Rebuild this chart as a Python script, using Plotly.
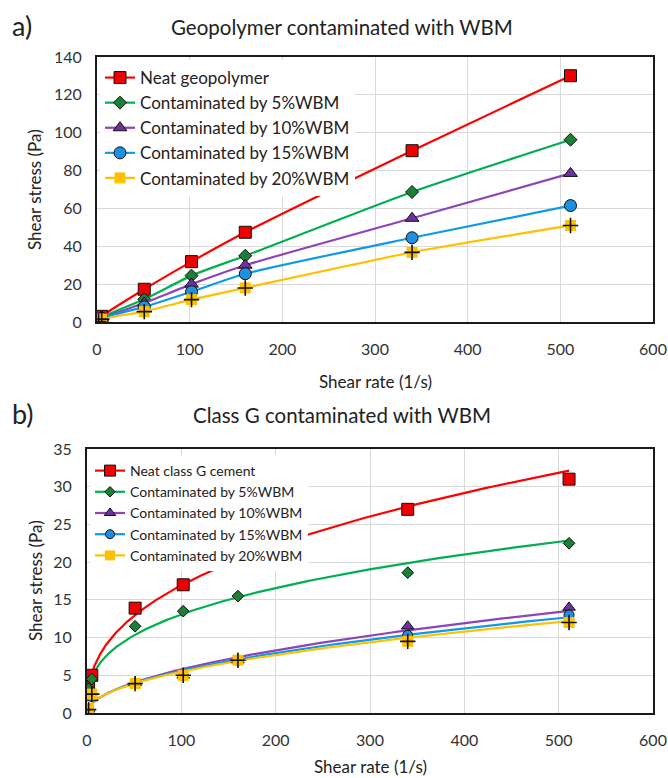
import numpy as np
import plotly.graph_objects as go

W, H = 668, 778
FONT = "Lato"

# ---------------- data ----------------
shear_rate = [1.7, 5.1, 51, 102, 160, 340, 511]
series_names_a = ["Neat geopolymer", "Contaminated by 5%WBM", "Contaminated by 10%WBM",
                  "Contaminated by 15%WBM", "Contaminated by 20%WBM"]
series_names_b = ["Neat class G cement", "Contaminated by 5%WBM", "Contaminated by 10%WBM",
                  "Contaminated by 15%WBM", "Contaminated by 20%WBM"]

geo_neat = [1.0, 3.0, 17.3, 31.9, 47.4, 90.5, 130.1]
geo_5 = [0.8, 2.5, 12.0, 24.5, 35.0, 68.7, 96.3]
geo_10 = [0.6, 2.0, 10.0, 20.0, 30.0, 54.8, 78.5]
geo_15 = [0.5, 2.0, 8.0, 16.0, 25.5, 44.5, 61.5]
geo_20 = [0.3, 1.5, 5.5, 11.8, 18.0, 36.8, 51.0]

cls_neat = [3.45, 5.0, 13.9, 17.0, 20.9, 27.0, 31.0]
cls_5 = [3.2, 4.5, 11.5, 13.5, 15.5, 18.6, 22.5]
cls_10 = [0.5, 2.0, 4.0, 5.0, 7.0, 11.5, 14.0]
cls_15 = [0.5, 2.2, 3.9, 5.0, 7.0, 10.3, 13.0]
cls_20 = [0.45, 2.5, 3.9, 5.0, 7.0, 9.5, 12.0]

x_ticks = [0, 100, 200, 300, 400, 500, 600]

# ---------------- styles ----------------
line_cols = ["#ff0000", "#00b050", "#8e44b8", "#0f9ae6", "#ffc000"]
fill_cols = ["#ee0000", "#1b7f36", "#7030a0", "#1f8fe0", "#ffc000"]
symbols = ["square", "diamond", "triangle-up", "circle", "square"]
sizes_a = [12, 10, 12, 12, 11]
sizes_b = [12, 9, 11, 10, 11]


def px(x):
    return x / W


def py(y):
    return 1 - y / H


fig = go.Figure()

# ---------------- panel a ----------------
geo = [geo_neat, geo_5, geo_10, geo_15, geo_20]
for i, ys in enumerate(geo):
    mk = dict(symbol=symbols[i], size=sizes_a[i], color=fill_cols[i],
              line=dict(color="#111111", width=1 if i < 4 else 0))
    fig.add_trace(go.Scatter(
        x=shear_rate, y=ys, name=series_names_a[i], mode="lines+markers",
        line=dict(color=line_cols[i], width=2.2, shape="spline", smoothing=0.6),
        marker=mk, xaxis="x", yaxis="y", legend="legend"))
fig.add_trace(go.Scatter(
    x=shear_rate, y=geo_20, mode="markers", showlegend=False,
    marker=dict(symbol="cross-thin", size=11, line=dict(color="#111111", width=1.6)),
    xaxis="x", yaxis="y"))

# ---------------- panel b ----------------
cls = [cls_neat, cls_5, cls_10, cls_15, cls_20]
xr = np.array(shear_rate, dtype=float)
xc = np.geomspace(xr.min(), xr.max(), 300)
for i, ys in enumerate(cls):
    b, lna = np.polyfit(np.log(xr), np.log(np.array(ys)), 1)
    fig.add_trace(go.Scatter(
        x=xc, y=np.exp(lna) * xc ** b, mode="lines", showlegend=False,
        line=dict(color=line_cols[i], width=2.2), xaxis="x2", yaxis="y2",
        hoverinfo="skip"))
for i, ys in enumerate(cls):
    mk = dict(symbol=symbols[i], size=sizes_b[i], color=fill_cols[i],
              line=dict(color="#111111", width=1 if i < 4 else 0))
    fig.add_trace(go.Scatter(
        x=shear_rate, y=ys, mode="markers", showlegend=False,
        marker=mk, xaxis="x2", yaxis="y2"))
    # legend entry (line + marker)
    fig.add_trace(go.Scatter(
        x=[None], y=[None], mode="lines+markers", name=series_names_b[i],
        line=dict(color=line_cols[i], width=2.2),
        marker=dict(symbol=symbols[i], size=sizes_b[i] - 1, color=fill_cols[i],
                    line=dict(color="#111111", width=1 if i < 4 else 0)),
        xaxis="x2", yaxis="y2", legend="legend2"))
fig.add_trace(go.Scatter(
    x=shear_rate, y=cls_20, mode="markers", showlegend=False,
    marker=dict(symbol="cross-thin", size=11, line=dict(color="#111111", width=1.6)),
    xaxis="x2", yaxis="y2"))

# ---------------- layout ----------------
axis_common = dict(showgrid=True, gridcolor="#d9d9d9", gridwidth=1, zeroline=False,
                   showline=True, linecolor="#1a1a1a", linewidth=2, mirror=True,
                   ticks="", automargin=False,
                   tickfont=dict(family=FONT, size=16, color="#333333"))

fig.update_layout(
    width=W, height=H, margin=dict(l=0, r=0, t=0, b=0, autoexpand=False),
    paper_bgcolor="white", plot_bgcolor="white",
    font=dict(family=FONT, color="#222222"),
    xaxis=dict(domain=[px(97), px(653)], anchor="y", range=[0, 600], tickvals=x_ticks,
               ticklabelstandoff=12, **axis_common),
    yaxis=dict(domain=[py(322), py(57)], anchor="x", range=[0, 140], dtick=20,
               ticklabelstandoff=10, **axis_common),
    xaxis2=dict(domain=[px(87), px(653)], anchor="y2", range=[0, 600], tickvals=x_ticks,
                ticklabelstandoff=12, **axis_common),
    yaxis2=dict(domain=[py(713), py(449)], anchor="x2", range=[0, 35], dtick=5,
                ticklabelstandoff=10, **axis_common),
    legend=dict(x=px(100), y=py(60), xanchor="left", yanchor="top",
                bgcolor="white", borderwidth=0, tracegroupgap=0,
                font=dict(family=FONT, size=17, color="#222222"),
                itemsizing="trace"),
    legend2=dict(x=px(90), y=py(455), xanchor="left", yanchor="top",
                 bgcolor="white", borderwidth=0, tracegroupgap=0,
                 font=dict(family=FONT, size=14, color="#222222"),
                 itemsizing="trace"),
    showlegend=True,
)

ann = []


def add_text(text, x, y, size, angle=0, xanchor="center"):
    ann.append(dict(text=text, x=px(x), y=py(y), xref="paper", yref="paper",
                    showarrow=False, xanchor=xanchor, yanchor="middle",
                    textangle=angle, font=dict(family=FONT, size=size, color="#222222")))


add_text("a)", 10, 26, 27, xanchor="left")
add_text("Geopolymer contaminated with WBM", 342, 27, 20.5)
add_text("Shear rate (1/s)", 375, 381, 17)
add_text("Shear stress (Pa)", 35, 190, 17, angle=-90)
add_text("b)", 10, 413, 27, xanchor="left")
add_text("Class G contaminated with WBM", 342, 415, 20.5)
add_text("Shear rate (1/s)", 370, 766, 17)
add_text("Shear stress (Pa)", 35, 581, 17, angle=-90)
fig.update_layout(annotations=ann)

fig.write_html(
    "out.html",
    config={"displayModeBar": False},
    post_script="document.body.style.margin='0px';document.body.style.overflow='hidden';",
)
